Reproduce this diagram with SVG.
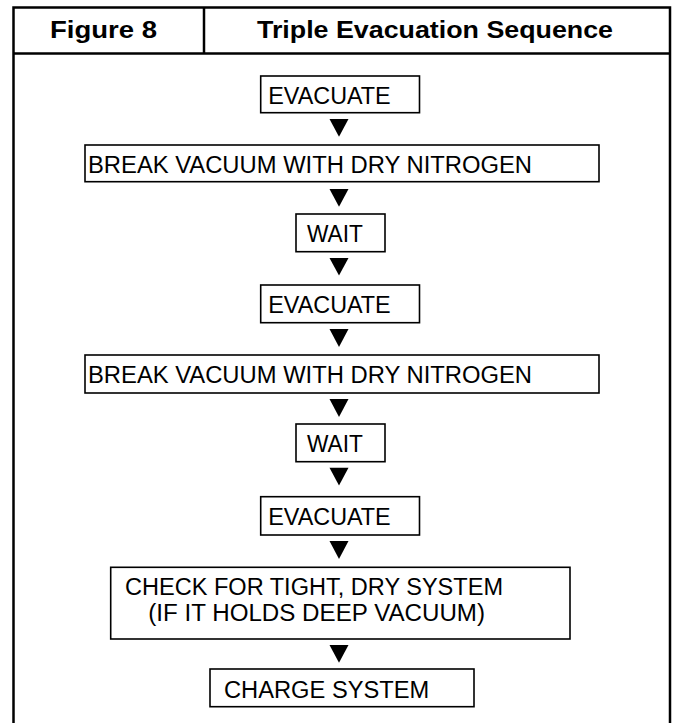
<svg xmlns="http://www.w3.org/2000/svg" width="674" height="723" viewBox="0 0 674 723">
<style>
.frame{fill:none;stroke:#000;stroke-width:2.5}
.box{fill:#fff;stroke:#000;stroke-width:1.6}
.t{font-family:"Liberation Sans",Arial,Helvetica,sans-serif;font-size:23px;fill:#000}
.h{font-family:"Liberation Sans",Arial,Helvetica,sans-serif;font-size:24px;font-weight:bold;fill:#000}
.arr{fill:#000;stroke:none}
</style>
<rect width="674" height="723" fill="#fff"/>
<g id="frame">
<path class="frame" d="M13.5,723 V7.5 H670 V723"/>
<line class="frame" x1="13.5" y1="53.5" x2="670" y2="53.5"/>
<line class="frame" x1="204" y1="7.5" x2="204" y2="53.5"/>
<text class="h" x="50" y="37.5" textLength="107" lengthAdjust="spacingAndGlyphs">Figure 8</text>
<text class="h" x="257" y="37.5" textLength="356" lengthAdjust="spacingAndGlyphs">Triple Evacuation Sequence</text>
</g>
<g id="connectors">
<path class="arr" d="M329.5,119 H348.5 L339,136.7 Z"/>
<path class="arr" d="M329.5,189 H348.5 L339,206.7 Z"/>
<path class="arr" d="M329.5,258 H348.5 L339,275.5 Z"/>
<path class="arr" d="M329.5,329 H348.5 L339,347 Z"/>
<path class="arr" d="M329.5,399 H348.5 L339,417 Z"/>
<path class="arr" d="M329.5,467.7 H348.5 L339,485.5 Z"/>
<path class="arr" d="M329.5,541 H348.5 L339,559 Z"/>
<path class="arr" d="M329.5,645 H348.5 L339,662.7 Z"/>
</g>
<g id="evacuate1">
<rect class="box" x="260.7" y="76" width="158.8" height="36.7"/>
<text class="t" x="268.3" y="104" textLength="122.4" lengthAdjust="spacingAndGlyphs">EVACUATE</text>
</g>
<g id="break1">
<rect class="box" x="85" y="145" width="514" height="36.7"/>
<text class="t" x="88" y="173" textLength="444" lengthAdjust="spacingAndGlyphs">BREAK VACUUM WITH DRY NITROGEN</text>
</g>
<g id="wait1">
<rect class="box" x="296" y="214" width="89" height="37.7"/>
<text class="t" x="307" y="242" textLength="56" lengthAdjust="spacingAndGlyphs">WAIT</text>
</g>
<g id="evacuate2">
<rect class="box" x="260.7" y="285" width="158.8" height="37.7"/>
<text class="t" x="268.3" y="313" textLength="122.4" lengthAdjust="spacingAndGlyphs">EVACUATE</text>
</g>
<g id="break2">
<rect class="box" x="85" y="355" width="514" height="38"/>
<text class="t" x="88" y="383" textLength="444" lengthAdjust="spacingAndGlyphs">BREAK VACUUM WITH DRY NITROGEN</text>
</g>
<g id="wait2">
<rect class="box" x="296" y="424" width="89" height="37.7"/>
<text class="t" x="307" y="452" textLength="56" lengthAdjust="spacingAndGlyphs">WAIT</text>
</g>
<g id="evacuate3">
<rect class="box" x="260.7" y="496.7" width="158.8" height="38.3"/>
<text class="t" x="268.3" y="525" textLength="122.4" lengthAdjust="spacingAndGlyphs">EVACUATE</text>
</g>
<g id="check">
<rect class="box" x="110.7" y="567.3" width="459.3" height="71.7"/>
<text class="t" x="125" y="595" textLength="378" lengthAdjust="spacingAndGlyphs">CHECK FOR TIGHT, DRY SYSTEM</text>
<text class="t" x="148.3" y="621" textLength="336.7" lengthAdjust="spacingAndGlyphs">(IF IT HOLDS DEEP VACUUM)</text>
</g>
<g id="charge">
<rect class="box" x="210" y="669" width="264" height="37.7"/>
<text class="t" x="224" y="698" textLength="205.3" lengthAdjust="spacingAndGlyphs">CHARGE SYSTEM</text>
</g>
</svg>
